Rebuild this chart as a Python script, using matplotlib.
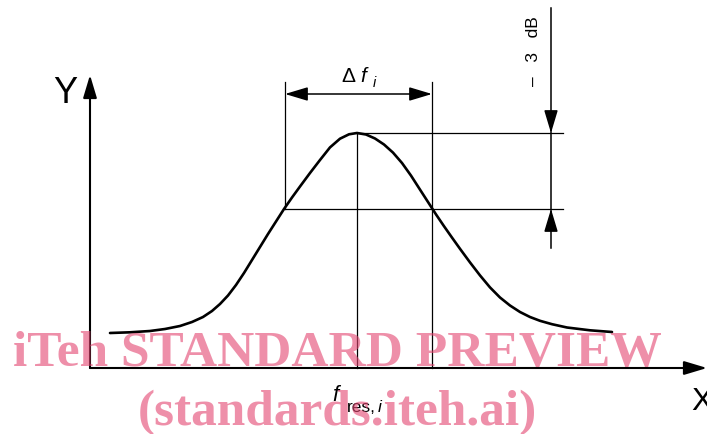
import matplotlib
matplotlib.use('Agg')
import matplotlib.pyplot as plt

# bell curve (pixel coords, y downward)
curve_x = [110, 130, 150, 165, 180, 192, 203, 212, 220, 228, 236, 244, 252, 260, 268, 276, 284,
           292, 300, 310, 320, 330, 340, 349, 357,
           366, 375, 384, 393, 402, 411, 420, 428, 432, 436, 444, 452, 460, 470, 480, 490,
           500, 510, 520, 530, 540, 552, 567, 590, 612]
curve_y = [333, 332.3, 331, 329, 326, 322, 317, 311, 304, 295.5, 285, 273, 260, 247, 234, 221.5, 209,
           197.5, 186.5, 173, 160, 147.4, 138.7, 134.3, 133,
           134.5, 138.5, 144.5, 152.6, 163, 175.6, 189.6, 202, 208.2, 214.4, 226.2, 237.6, 248.8,
           262.4, 275.4, 287.4, 297.5, 305.5, 312, 317, 320.8, 324.2, 327.5, 330.3, 332]

origin = (90, 368)
x_axis_end = 707
y_axis_end = 75
peak = (357, 133)
half_left = (285, 209)
half_right = (432, 209)
dim_y = 94          # level of the delta-f dimension line
ext_top = 82        # top of the extension lines
db_x = 551
db_top = 8
db_bottom = 248
ref_end = 563

wm_lines = ["iTeh STANDARD PREVIEW", "(standards.iteh.ai)"]

fig = plt.figure(figsize=(7.07, 4.34), dpi=100)
ax = fig.add_axes([0, 0, 1, 1])
ax.set_xlim(0, 707)
ax.set_ylim(434, 0)
ax.axis('off')

head = dict(arrowstyle='-|>,head_length=1.0,head_width=0.3', mutation_scale=14,
            color='black', shrinkA=0, shrinkB=0)

# axes with arrows
ax.annotate('', xy=(origin[0], y_axis_end), xytext=origin,
            arrowprops=dict(head, lw=1.5), annotation_clip=False)
ax.annotate('', xy=(x_axis_end, origin[1]), xytext=origin,
            arrowprops=dict(head, lw=1.5), annotation_clip=False)
ax.text(65, 103, 'Y', fontsize=26, family='Liberation Sans', ha='center', va='baseline')
ax.text(702, 410, 'X', fontsize=23, family='Liberation Sans', ha='center', va='baseline')

# curve
ax.plot(curve_x, curve_y, color='black', lw=1.9, solid_capstyle='round', solid_joinstyle='round')

# construction lines
thin = dict(color='black', lw=0.9)
ax.plot([half_left[0], half_left[0]], [ext_top, half_left[1]], **thin)
ax.plot([half_right[0], half_right[0]], [ext_top, origin[1]], **thin)
ax.plot([peak[0], peak[0]], [peak[1], origin[1]], **thin)
ax.plot([peak[0], ref_end], [peak[1], peak[1]], **thin)
ax.plot([half_left[0], ref_end], [half_left[1], half_left[1]], **thin)

# delta f dimension
ax.annotate('', xy=(half_left[0], dim_y), xytext=(half_right[0], dim_y),
            arrowprops=dict(head, arrowstyle='<|-|>,head_length=1.0,head_width=0.3', lw=1.1))
ax.text(341, 82, 'Δ', fontsize=15, family='Liberation Sans', va='baseline')
ax.text(360, 82, 'f', fontsize=15, family='Liberation Sans', style='italic', va='baseline')
ax.text(373, 87, 'i', fontsize=10.5, family='Liberation Sans', style='italic', va='baseline')

# -3 dB dimension
ax.plot([db_x, db_x], [db_top, db_bottom], color='black', lw=1.1)
ax.annotate('', xy=(db_x, peak[1]), xytext=(db_x, peak[1] - 20),
            arrowprops=dict(head, lw=1.1))
ax.annotate('', xy=(db_x, half_left[1]), xytext=(db_x, half_left[1] + 20),
            arrowprops=dict(head, lw=1.1))
ax.text(533, 51, '–   3   dB', fontsize=12.5, family='Liberation Sans', rotation=90,
        ha='center', va='center')

# f_res,i label
ax.text(332, 401, 'f', fontsize=16, family='Liberation Sans', style='italic', va='baseline')
ax.text(347, 412, 'res,', fontsize=12.5, family='Liberation Sans', va='baseline')
ax.text(378, 412, 'i', fontsize=12.5, family='Liberation Sans', style='italic', va='baseline')

# watermark
ax.text(337, 366, wm_lines[0], fontsize=37, family='Liberation Serif', weight='bold',
        color=(0.89, 0.27, 0.44), alpha=0.6, ha='center', va='baseline', zorder=10)
ax.text(337, 425, wm_lines[1], fontsize=37, family='Liberation Serif', weight='bold',
        color=(0.89, 0.27, 0.44), alpha=0.6, ha='center', va='baseline', zorder=10)

fig.savefig('out.png', dpi=100)
